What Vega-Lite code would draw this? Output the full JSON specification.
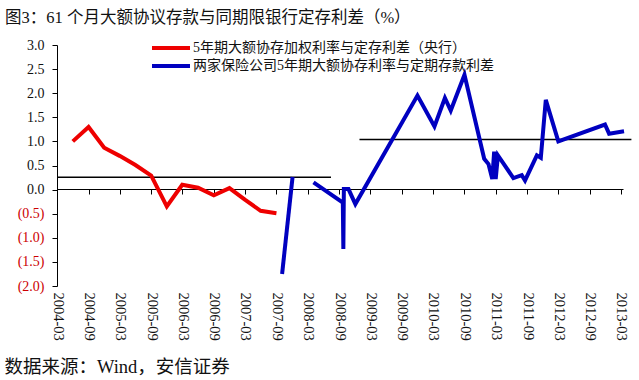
{
  "$schema": "https://vega.github.io/schema/vega-lite/v6.json",
  "autosize": "none",
  "width": 566,
  "height": 241,
  "padding": {"left": 57, "top": 45, "right": 16, "bottom": 94},
  "background": "white",
  "config": {
    "view": {"stroke": null},
    "axisY": {
      "values": [-2, -1.5, -1, -0.5, 0, 0.5, 1, 1.5, 2, 2.5, 3],
      "labelExpr": "datum.value < 0 ? '(' + format(-datum.value, '.1f') + ')' : format(datum.value, '.1f')",
      "labelColor": {"condition": {"test": "datum.value < 0", "value": "#cc0000"}, "value": "#111111"},
      "labelFont": "Liberation Serif",
      "labelFontSize": 14,
      "labelPadding": 8,
      "labelOverlap": false,
      "labelFlush": false,
      "tickSize": 5,
      "tickColor": "#000000",
      "domainColor": "#000000",
      "grid": false
    }
  },
  "title": {
    "text": "图3：61 个月大额协议存款与同期限银行定存利差（%）",
    "anchor": "start",
    "frame": "group",
    "dx": -52,
    "offset": 12,
    "font": "Liberation Serif, Noto Sans CJK SC",
    "fontSize": 16.5,
    "fontWeight": "normal",
    "color": "#111111"
  },
  "datasets": {
    "series": [
      {"s": "5年期大额协存加权利率与定存利差（央行）", "seg": "r", "date": "2004-06-01", "v": 1.0},
      {"s": "5年期大额协存加权利率与定存利差（央行）", "seg": "r", "date": "2004-09-01", "v": 1.3},
      {"s": "5年期大额协存加权利率与定存利差（央行）", "seg": "r", "date": "2004-12-01", "v": 0.87},
      {"s": "5年期大额协存加权利率与定存利差（央行）", "seg": "r", "date": "2005-03-01", "v": 0.70},
      {"s": "5年期大额协存加权利率与定存利差（央行）", "seg": "r", "date": "2005-06-01", "v": 0.51},
      {"s": "5年期大额协存加权利率与定存利差（央行）", "seg": "r", "date": "2005-09-01", "v": 0.29},
      {"s": "5年期大额协存加权利率与定存利差（央行）", "seg": "r", "date": "2005-12-01", "v": -0.35},
      {"s": "5年期大额协存加权利率与定存利差（央行）", "seg": "r", "date": "2006-03-01", "v": 0.10},
      {"s": "5年期大额协存加权利率与定存利差（央行）", "seg": "r", "date": "2006-06-01", "v": 0.04},
      {"s": "5年期大额协存加权利率与定存利差（央行）", "seg": "r", "date": "2006-09-01", "v": -0.12},
      {"s": "5年期大额协存加权利率与定存利差（央行）", "seg": "r", "date": "2006-12-01", "v": 0.03},
      {"s": "5年期大额协存加权利率与定存利差（央行）", "seg": "r", "date": "2007-03-01", "v": -0.21},
      {"s": "5年期大额协存加权利率与定存利差（央行）", "seg": "r", "date": "2007-06-01", "v": -0.44},
      {"s": "5年期大额协存加权利率与定存利差（央行）", "seg": "r", "date": "2007-09-01", "v": -0.49},
      {"s": "两家保险公司5年期大额协存利率与定期存款利差", "seg": "b1", "date": "2007-10-04", "v": -1.75},
      {"s": "两家保险公司5年期大额协存利率与定期存款利差", "seg": "b1", "date": "2007-12-04", "v": 0.26},
      {"s": "两家保险公司5年期大额协存利率与定期存款利差", "seg": "b2", "date": "2008-04-04", "v": 0.15},
      {"s": "两家保险公司5年期大额协存利率与定期存款利差", "seg": "b2", "date": "2008-09-22", "v": -0.27},
      {"s": "两家保险公司5年期大额协存利率与定期存款利差", "seg": "b2", "date": "2008-09-25", "v": -1.23},
      {"s": "两家保险公司5年期大额协存利率与定期存款利差", "seg": "b2", "date": "2008-09-28", "v": 0.01},
      {"s": "两家保险公司5年期大额协存利率与定期存款利差", "seg": "b2", "date": "2008-10-25", "v": 0.01},
      {"s": "两家保险公司5年期大额协存利率与定期存款利差", "seg": "b2", "date": "2008-12-04", "v": -0.30},
      {"s": "两家保险公司5年期大额协存利率与定期存款利差", "seg": "b2", "date": "2009-12-01", "v": 1.95},
      {"s": "两家保险公司5年期大额协存利率与定期存款利差", "seg": "b2", "date": "2010-03-10", "v": 1.31},
      {"s": "两家保险公司5年期大额协存利率与定期存款利差", "seg": "b2", "date": "2010-05-10", "v": 1.90},
      {"s": "两家保险公司5年期大额协存利率与定期存款利差", "seg": "b2", "date": "2010-06-13", "v": 1.64},
      {"s": "两家保险公司5年期大额协存利率与定期存款利差", "seg": "b2", "date": "2010-09-01", "v": 2.38},
      {"s": "两家保险公司5年期大额协存利率与定期存款利差", "seg": "b2", "date": "2010-12-25", "v": 0.64},
      {"s": "两家保险公司5年期大额协存利率与定期存款利差", "seg": "b2", "date": "2011-01-19", "v": 0.53},
      {"s": "两家保险公司5年期大额协存利率与定期存款利差", "seg": "b2", "date": "2011-02-10", "v": 0.22},
      {"s": "两家保险公司5年期大额协存利率与定期存款利差", "seg": "b2", "date": "2011-02-21", "v": 0.79},
      {"s": "两家保险公司5年期大额协存利率与定期存款利差", "seg": "b2", "date": "2011-03-02", "v": 0.22},
      {"s": "两家保险公司5年期大额协存利率与定期存款利差", "seg": "b2", "date": "2011-03-15", "v": 0.71},
      {"s": "两家保险公司5年期大额协存利率与定期存款利差", "seg": "b2", "date": "2011-06-13", "v": 0.24},
      {"s": "两家保险公司5年期大额协存利率与定期存款利差", "seg": "b2", "date": "2011-08-01", "v": 0.30},
      {"s": "两家保险公司5年期大额协存利率与定期存款利差", "seg": "b2", "date": "2011-08-20", "v": 0.19},
      {"s": "两家保险公司5年期大额协存利率与定期存款利差", "seg": "b2", "date": "2011-10-28", "v": 0.71},
      {"s": "两家保险公司5年期大额协存利率与定期存款利差", "seg": "b2", "date": "2011-11-20", "v": 0.66},
      {"s": "两家保险公司5年期大额协存利率与定期存款利差", "seg": "b2", "date": "2011-12-19", "v": 1.86},
      {"s": "两家保险公司5年期大额协存利率与定期存款利差", "seg": "b2", "date": "2012-03-01", "v": 1.00},
      {"s": "两家保险公司5年期大额协存利率与定期存款利差", "seg": "b2", "date": "2012-11-28", "v": 1.35},
      {"s": "两家保险公司5年期大额协存利率与定期存款利差", "seg": "b2", "date": "2012-12-22", "v": 1.16},
      {"s": "两家保险公司5年期大额协存利率与定期存款利差", "seg": "b2", "date": "2013-03-19", "v": 1.21}
    ],
    "refs": [
      {"seg": "m1", "date": "2004-03-01", "v": 0.255},
      {"seg": "m1", "date": "2008-07-15", "v": 0.255},
      {"seg": "m2", "date": "2008-12-28", "v": 1.04},
      {"seg": "m2", "date": "2013-05-01", "v": 1.04}
    ]
  },
  "layer": [
    {
      "data": {"name": "refs"},
      "mark": {"type": "line", "color": "#000000", "strokeWidth": 1.5, "clip": false},
      "encoding": {
        "x": {
          "field": "date", "type": "temporal",
          "scale": {"type": "utc", "domain": ["2004-03-01", "2013-03-13"]},
          "axis": {
            "orient": "bottom",
            "values": ["2004-03-01","2004-09-01","2005-03-01","2005-09-01","2006-03-01","2006-09-01","2007-03-01","2007-09-01","2008-03-01","2008-09-01","2009-03-01","2009-09-01","2010-03-01","2010-09-01","2011-03-01","2011-09-01","2012-03-01","2012-09-01","2013-03-01"],
            "labelExpr": "utcFormat(datum.value, '%Y-%m')",
            "labelAngle": 90,
            "labelFont": "Liberation Serif",
            "labelFontSize": 14.5,
            "labelColor": "#111111",
            "labelPadding": 6,
            "labelOverlap": false,
            "labelFlush": false,
            "domain": false,
            "ticks": false,
            "grid": false,
            "title": "数据来源：Wind，安信证券",
            "titleFont": "Liberation Serif, Noto Sans CJK SC",
            "titleFontSize": 18.5,
            "titleFontWeight": "normal",
            "titleColor": "#111111",
            "titleAnchor": "start",
            "titleAlign": "left",
            "titleBaseline": "middle",
            "titleX": -53,
            "titleY": 80
          }
        },
        "y": {
          "field": "v", "type": "quantitative",
          "scale": {"domain": [-2, 3], "nice": false, "zero": false},
          "axis": {
            "values": [-2, -1.5, -1, -0.5, 0, 0.5, 1, 1.5, 2, 2.5, 3],
            "labelOverlap": false,
            "title": null
          }
        },
        "detail": {"field": "seg"}
      }
    },
    {
      "data": {"name": "series"},
      "mark": {"type": "line", "strokeWidth": 4, "clip": false},
      "encoding": {
        "x": {"field": "date", "type": "temporal",
          "axis": {
            "orient": "bottom",
            "offset": -97,
            "values": ["2004-03-01","2004-09-01","2005-03-01","2005-09-01","2006-03-01","2006-09-01","2007-03-01","2007-09-01","2008-03-01","2008-09-01","2009-03-01","2009-09-01","2010-03-01","2010-09-01","2011-03-01","2011-09-01","2012-03-01","2012-09-01","2013-03-01"],
            "labels": false,
            "domain": true,
            "domainColor": "#000000",
            "ticks": true,
            "tickSize": 5,
            "tickColor": "#000000",
            "grid": false,
            "title": null
          }
        },
        "y": {"field": "v", "type": "quantitative",
          "axis": {
            "values": [-2, -1.5, -1, -0.5, 0, 0.5, 1, 1.5, 2, 2.5, 3],
            "labelOverlap": false,
            "title": null
          }
        },
        "detail": {"field": "seg"},
        "color": {
          "field": "s", "type": "nominal",
          "scale": {
            "domain": ["5年期大额协存加权利率与定存利差（央行）", "两家保险公司5年期大额协存利率与定期存款利差"],
            "range": ["#ee0000", "#0000c0"]
          },
          "legend": {
            "orient": "none",
            "legendX": 104,
            "legendY": -7,
            "title": null,
            "symbolType": "M-2.5,0H2.5",
            "symbolSize": 231,
            "symbolStrokeWidth": 4,
            "labelFont": "Liberation Serif, Noto Sans CJK SC",
            "labelFontSize": 14,
            "labelColor": "#111111",
            "labelOffset": 12,
            "rowPadding": 0,
            "padding": 0,
            "labelLimit": 500
          }
        }
      }
    }
  ],
  "resolve": {"axis": {"x": "independent"}}
}
